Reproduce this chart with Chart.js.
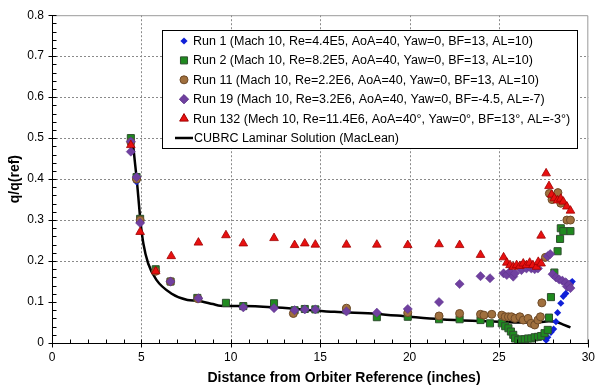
<!DOCTYPE html>
<html>
<head>
<meta charset="utf-8">
<script src="https://cdn.jsdelivr.net/npm/chart.js@4.4.1/dist/chart.umd.min.js"></script>
<style>
  html, body { margin: 0; padding: 0; background: #fff; }
</style>
</head>
<body>
<canvas id="chart" width="602" height="389"></canvas>
<script>
// values: x = distance (inches), y = q/q(ref)
const run1X = [4.41, 4.73, 4.93, 5.80, 6.63, 8.16, 27.64, 27.73, 27.91, 28.06, 28.19, 28.28, 28.46, 28.60, 28.74, 28.86, 29.00, 29.10];
const run1Y = [0.490, 0.393, 0.300, 0.178, 0.150, 0.110, 0.007, 0.014, 0.026, 0.034, 0.052, 0.074, 0.097, 0.114, 0.121, 0.135, 0.146, 0.150];

const run2X = [4.41, 4.73, 4.93, 5.80, 6.63, 8.13, 9.73, 10.70, 12.42, 13.57, 14.14, 14.73, 16.47, 18.17, 19.90, 21.65, 22.80, 23.97, 24.50, 25.16, 25.35, 25.53, 25.67, 25.80, 25.90, 26.08, 26.26, 26.45, 26.63, 26.81, 27.00, 27.18, 27.36, 27.55, 27.73, 27.80, 27.91, 28.10, 28.28, 28.42, 28.46, 28.60, 29.00];
const run2Y = [0.500, 0.405, 0.303, 0.180, 0.150, 0.110, 0.098, 0.090, 0.097, 0.080, 0.083, 0.082, 0.080, 0.063, 0.064, 0.058, 0.058, 0.056, 0.048, 0.048, 0.041, 0.036, 0.028, 0.020, 0.011, 0.007, 0.009, 0.009, 0.011, 0.011, 0.014, 0.015, 0.017, 0.024, 0.032, 0.062, 0.112, 0.172, 0.224, 0.254, 0.280, 0.273, 0.273];

const run11X = [4.41, 4.73, 4.93, 5.80, 6.63, 8.16, 13.50, 16.47, 19.90, 21.65, 22.80, 23.97, 24.16, 24.60, 25.16, 25.35, 25.53, 25.70, 25.90, 26.17, 26.36, 26.63, 26.80, 27.00, 27.18, 27.32, 27.40, 27.60, 27.82, 27.97, 28.10, 28.30, 28.46, 28.80, 29.00];
const run11Y = [0.490, 0.400, 0.300, 0.175, 0.150, 0.108, 0.072, 0.085, 0.074, 0.066, 0.072, 0.070, 0.068, 0.070, 0.068, 0.064, 0.064, 0.064, 0.060, 0.064, 0.056, 0.060, 0.048, 0.044, 0.056, 0.064, 0.098, 0.209, 0.365, 0.350, 0.357, 0.367, 0.341, 0.300, 0.300];

const run19X = [4.41, 4.41, 4.73, 4.93, 6.63, 8.19, 10.70, 12.42, 13.57, 14.14, 14.73, 16.47, 18.17, 19.90, 21.65, 22.80, 23.97, 24.50, 25.26, 25.44, 25.62, 25.80, 25.90, 26.26, 26.54, 26.81, 27.00, 27.18, 27.73, 27.87, 28.00, 28.19, 28.37, 28.55, 28.74, 28.80, 28.92, 29.00];
const run19Y = [0.492, 0.467, 0.405, 0.293, 0.150, 0.109, 0.087, 0.085, 0.080, 0.082, 0.082, 0.077, 0.074, 0.083, 0.100, 0.144, 0.163, 0.158, 0.170, 0.166, 0.174, 0.162, 0.170, 0.178, 0.182, 0.182, 0.180, 0.182, 0.212, 0.217, 0.168, 0.160, 0.155, 0.152, 0.148, 0.138, 0.142, 0.134];

const run132X = [4.41, 4.93, 5.80, 6.67, 8.19, 9.73, 10.70, 12.42, 13.57, 14.14, 14.73, 16.47, 18.17, 19.90, 21.65, 22.80, 23.97, 25.26, 25.44, 25.62, 25.80, 25.99, 26.17, 26.36, 26.54, 26.72, 26.90, 27.10, 27.20, 27.36, 27.36, 27.64, 27.80, 27.95, 28.10, 28.28, 28.46, 28.60, 28.80, 29.00];
const run132Y = [0.483, 0.271, 0.175, 0.212, 0.245, 0.263, 0.243, 0.256, 0.239, 0.243, 0.240, 0.240, 0.240, 0.239, 0.241, 0.239, 0.215, 0.209, 0.196, 0.190, 0.186, 0.190, 0.188, 0.194, 0.190, 0.196, 0.190, 0.186, 0.198, 0.194, 0.262, 0.414, 0.383, 0.362, 0.353, 0.348, 0.352, 0.345, 0.333, 0.323];

const cubrcX = [4.40, 4.52, 4.64, 4.76, 4.86, 4.95, 5.11, 5.38, 5.84, 6.67, 7.58, 8.13, 9.00, 9.41, 10.70, 12.35, 14.00, 15.80, 18.20, 20.00, 21.70, 23.50, 25.00, 26.00, 27.00, 27.80, 28.30, 28.60, 29.00];
const cubrcY = [0.500, 0.487, 0.440, 0.390, 0.340, 0.296, 0.243, 0.194, 0.154, 0.121, 0.105, 0.103, 0.095, 0.091, 0.090, 0.087, 0.082, 0.076, 0.071, 0.064, 0.058, 0.054, 0.052, 0.050, 0.050, 0.053, 0.050, 0.045, 0.038];

const seriesLabels = [
    'Run 1 (Mach 10, Re=4.4E5, AoA=40, Yaw=0, BF=13, AL=10)',
    'Run 2 (Mach 10, Re=8.2E5, AoA=40, Yaw=0, BF=13, AL=10)',
    'Run 11 (Mach 10, Re=2.2E6, AoA=40, Yaw=0, BF=13, AL=10)',
    'Run 19 (Mach 10, Re=3.2E6, AoA=40, Yaw=0, BF=-4.5, AL=-7)',
    'Run 132 (Mech 10, Re=11.4E6, AoA=40°, Yaw=0°, BF=13°, AL=-3°)',
    'CUBRC Laminar Solution (MacLean)'
];
const xTitle = 'Distance from Orbiter Reference (inches)';
const yTitle = 'q/q(ref)';

const FONT = '"Liberation Sans", Arial, sans-serif';

function pts(xs, ys) {
    return xs.map((x, i) => ({ x: x, y: ys[i] }));
}

function marker(ctx, style, x, y, r, fill, stroke) {
    ctx.save();
    ctx.fillStyle = fill;
    ctx.strokeStyle = stroke;
    ctx.lineWidth = 1;
    ctx.beginPath();
    if (style === 'rectRot') {
        ctx.moveTo(x, y - r); ctx.lineTo(x + r, y); ctx.lineTo(x, y + r); ctx.lineTo(x - r, y);
    } else if (style === 'rect') {
        const s = r * Math.SQRT1_2;
        ctx.rect(x - s, y - s, 2 * s, 2 * s);
    } else if (style === 'circle') {
        ctx.arc(x, y, r, 0, Math.PI * 2);
    } else if (style === 'triangle') {
        ctx.moveTo(x, y - r); ctx.lineTo(x + r * 0.866, y + r * 0.5); ctx.lineTo(x - r * 0.866, y + r * 0.5);
    }
    ctx.closePath();
    ctx.fill();
    if (stroke) ctx.stroke();
    ctx.restore();
}

const decor = {
    id: 'decor',
    beforeDatasetsDraw(chart) {
        const { ctx, chartArea: a, scales: { x, y } } = chart;
        ctx.save();
        ctx.strokeStyle = '#8a8a8a';
        ctx.lineWidth = 1;
        ctx.setLineDash([2, 2]);
        for (let v = 5; v < 30; v += 5) {
            const px = Math.round(x.getPixelForValue(v)) + 0.5;
            ctx.beginPath(); ctx.moveTo(px, a.top); ctx.lineTo(px, a.bottom); ctx.stroke();
        }
        for (let k = 2; k < 8; k++) {
            const py = Math.round(y.getPixelForValue(k / 10)) + 0.5;
            ctx.beginPath(); ctx.moveTo(a.left, py); ctx.lineTo(a.right, py); ctx.stroke();
        }
        ctx.setLineDash([]);
        ctx.strokeStyle = '#9a9a9a';
        ctx.beginPath();
        ctx.moveTo(a.left, a.top + 0.5); ctx.lineTo(a.right - 0.5, a.top + 0.5); ctx.lineTo(a.right - 0.5, a.bottom);
        ctx.stroke();
        ctx.restore();
    },
    afterDraw(chart) {
        const { ctx, chartArea: a, scales: { x, y } } = chart;
        ctx.save();
        // axes and tick marks
        ctx.strokeStyle = '#000';
        ctx.lineWidth = 1;
        const left = a.left + 0.5, bottom = a.bottom + 0.5;
        ctx.beginPath();
        ctx.moveTo(left, a.top); ctx.lineTo(left, bottom); ctx.lineTo(a.right, bottom);
        for (let v = 0; v <= 30; v++) {
            const px = Math.round(x.getPixelForValue(v)) + 0.5;
            ctx.moveTo(px, bottom - 4); ctx.lineTo(px, bottom + (v % 5 === 0 ? 4 : 0));
        }
        for (let k = 0; k <= 40; k++) {
            const py = Math.round(y.getPixelForValue(k / 50)) + 0.5;
            ctx.moveTo(left - (k % 5 === 0 ? 4 : 0), py); ctx.lineTo(left + 4, py);
        }
        ctx.stroke();

        // axis titles
        ctx.fillStyle = '#000';
        ctx.font = 'bold 14px ' + FONT;
        ctx.textAlign = 'center';
        ctx.textBaseline = 'middle';
        ctx.fillText(xTitle, 344, 378);
        ctx.translate(15, (a.top + a.bottom) / 2);
        ctx.rotate(-Math.PI / 2);
        ctx.fillText(yTitle, 0, 0);
        ctx.setTransform(1, 0, 0, 1, 0, 0);

        // legend box
        const bx = 162.5, by = 30.5, bw = 415, bh = 118;
        ctx.fillStyle = '#fff';
        ctx.fillRect(bx, by, bw, bh);
        ctx.strokeStyle = '#000';
        ctx.strokeRect(bx, by, bw, bh);
        ctx.font = '12.5px ' + FONT;
        ctx.textAlign = 'left';
        ctx.textBaseline = 'middle';
        chart.data.datasets.forEach((ds, i) => {
            const ry = 41 + i * 19.4;
            if (ds.showLine) {
                ctx.strokeStyle = ds.borderColor;
                ctx.lineWidth = 2.5;
                ctx.beginPath(); ctx.moveTo(175, ry); ctx.lineTo(193, ry); ctx.stroke();
            } else {
                marker(ctx, ds.pointStyle, 184, ry, ds.pointRadius, ds.backgroundColor, ds.pointBorderWidth ? ds.borderColor : null);
            }
            ctx.fillStyle = '#000';
            ctx.fillText(ds.label, ds.showLine ? 194 : 193, ry + 0.5);
        });
        ctx.restore();
    }
};

const datasets = [
    { label: seriesLabels[0], data: pts(run1X, run1Y), pointStyle: 'rectRot', pointRadius: 3.6,
      backgroundColor: '#1020d8', borderColor: '#1020d8', pointBorderWidth: 0, order: 4 },
    { label: seriesLabels[1], data: pts(run2X, run2Y), pointStyle: 'rect', pointRadius: 5,
      backgroundColor: '#1f8a1f', borderColor: '#2f4f2f', pointBorderWidth: 1, order: 3 },
    { label: seriesLabels[2], data: pts(run11X, run11Y), pointStyle: 'circle', pointRadius: 4,
      backgroundColor: '#a0703e', borderColor: '#6e4a28', pointBorderWidth: 1, order: 2 },
    { label: seriesLabels[3], data: pts(run19X, run19Y), pointStyle: 'rectRot', pointRadius: 4.6,
      backgroundColor: '#7040a0', borderColor: '#5a3088', pointBorderWidth: 0.5, order: 1 },
    { label: seriesLabels[4], data: pts(run132X, run132Y), pointStyle: 'triangle', pointRadius: 5,
      backgroundColor: '#e81010', borderColor: '#a00000', pointBorderWidth: 0.8, order: 0 },
    { label: seriesLabels[5], data: pts(cubrcX, cubrcY), showLine: true, pointRadius: 0,
      borderColor: '#000', borderWidth: 2.5, cubicInterpolationMode: 'monotone', order: 5 }
];

new Chart(document.getElementById('chart').getContext('2d'), {
    type: 'scatter',
    data: { datasets: datasets },
    plugins: [decor],
    options: {
        responsive: false,
        animation: false,
        layout: { padding: { top: 15, right: 4, left: 0, bottom: 0 } },
        plugins: { legend: { display: false }, tooltip: { enabled: false } },
        scales: {
            x: {
                type: 'linear', min: 0, max: 30,
                grid: { display: false, drawTicks: false },
                border: { display: false },
                ticks: { stepSize: 5, padding: 7, color: '#000', font: { family: FONT, size: 12 } },
                afterFit: (s) => { s.height = 46; }
            },
            y: {
                type: 'linear', min: 0, max: 0.8,
                grid: { display: false, drawTicks: false },
                border: { display: false },
                ticks: { stepSize: 0.1, padding: 8, color: '#000', font: { family: FONT, size: 12 },
                         callback: (v) => Math.round(v * 10) / 10 },
                afterFit: (s) => { s.width = 52; }
            }
        }
    }
});
</script>
</body>
</html>
